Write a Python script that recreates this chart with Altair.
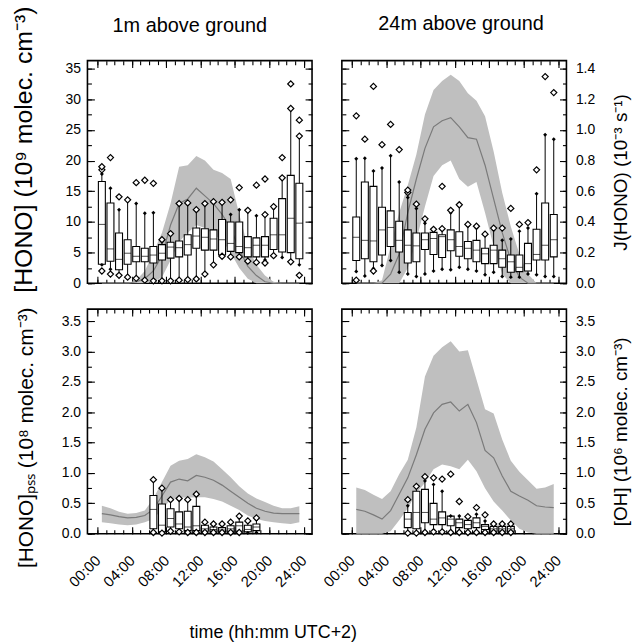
import altair as alt
import pandas as pd

FONT = "Liberation Sans"

# ---------------- data ----------------
hours = [i + 0.5 for i in range(24)]
pss_hours = [i + 0.5 for i in range(6, 19)]

# J(HONO) 1 m (10^-3 s^-1): lower quartile, median, upper quartile
j1_lo = [0, 0, 0, 0, 0, 0.00, 0.01, 0.04, 0.15, 0.27, 0.33, 0.38, 0.36, 0.32, 0.28, 0.20, 0.10, 0.03, 0.00, 0, 0, 0, 0, 0]
j1_med = [0, 0, 0, 0, 0.01, 0.03, 0.08, 0.18, 0.38, 0.52, 0.55, 0.62, 0.57, 0.52, 0.45, 0.36, 0.22, 0.11, 0.05, 0.01, 0, 0, 0, 0]
j1_hi = [0, 0, 0, 0, 0.02, 0.08, 0.20, 0.33, 0.52, 0.76, 0.77, 0.83, 0.80, 0.74, 0.72, 0.68, 0.45, 0.24, 0.12, 0.05, 0.01, 0, 0, 0]

# J(HONO) 24 m
j24_lo = [0, 0, 0, 0, 0, 0, 0.10, 0.28, 0.50, 0.70, 0.77, 0.80, 0.68, 0.63, 0.66, 0.46, 0.24, 0.06, 0, 0, 0, 0, 0, 0]
j24_med = [0, 0, 0, 0, 0.06, 0.19, 0.46, 0.68, 0.88, 1.02, 1.06, 1.08, 1.02, 0.95, 0.94, 0.77, 0.55, 0.33, 0.15, 0.04, 0, 0, 0, 0]
j24_hi = [0, 0, 0, 0.02, 0.24, 0.46, 0.64, 0.84, 1.10, 1.26, 1.32, 1.36, 1.32, 1.24, 1.19, 1.09, 0.86, 0.59, 0.37, 0.19, 0.06, 0, 0, 0]

# [OH] 1 m (10^6 molec cm^-3)
oh1_lo = [0.19, 0.17, 0.15, 0.14, 0.15, 0.19, 0.24, 0.40, 0.56, 0.60, 0.59, 0.60, 0.60, 0.57, 0.53, 0.46, 0.39, 0.30, 0.24, 0.21, 0.19, 0.17, 0.16, 0.19]
oh1_med = [0.33, 0.31, 0.28, 0.26, 0.27, 0.30, 0.40, 0.62, 0.85, 0.90, 0.87, 0.96, 0.93, 0.88, 0.80, 0.70, 0.60, 0.50, 0.42, 0.37, 0.34, 0.33, 0.33, 0.33]
oh1_hi = [0.46, 0.42, 0.36, 0.33, 0.34, 0.38, 0.58, 0.85, 1.12, 1.20, 1.23, 1.31, 1.26, 1.19, 1.06, 0.93, 0.78, 0.66, 0.58, 0.52, 0.46, 0.42, 0.42, 0.45]

# [OH] 24 m
oh24_lo = [0, 0, 0, 0, 0.04, 0.22, 0.42, 0.67, 0.84, 1.06, 1.14, 1.11, 1.06, 1.22, 1.03, 0.75, 0.53, 0.38, 0.22, 0.08, 0.02, 0, 0, 0]
oh24_med = [0.40, 0.37, 0.31, 0.24, 0.38, 0.65, 0.92, 1.30, 1.72, 1.99, 2.13, 2.17, 2.02, 2.13, 1.83, 1.37, 1.25, 0.95, 0.70, 0.62, 0.55, 0.46, 0.44, 0.43]
oh24_hi = [0.76, 0.72, 0.64, 0.57, 0.70, 0.98, 1.22, 1.75, 2.59, 2.93, 3.07, 3.17, 3.00, 3.02, 2.54, 2.05, 1.98, 1.55, 1.20, 1.02, 0.88, 0.74, 0.76, 0.82]

# [HONO] 1 m boxes (10^9 molec cm^-3)
tl_wlo = [3.0, 2.3, 1.4, 1.2, 0.9, 0.6, 0.5, 0.5, 0.5, 0.6, 0.7, 0.8, 1.5, 3.0, 4.4, 4.3, 4.3, 3.6, 3.4, 3.8, 4.4, 4.2, 3.6, 3.0]
tl_q1 = [3.1, 3.6, 2.2, 3.1, 3.5, 3.5, 3.3, 3.8, 4.1, 4.3, 4.6, 5.7, 5.4, 5.4, 4.6, 5.2, 5.0, 4.3, 4.3, 4.3, 5.5, 5.1, 5.0, 4.0]
tl_med = [9.6, 5.6, 3.9, 4.9, 4.4, 4.4, 4.6, 4.9, 5.9, 5.8, 6.3, 7.7, 7.5, 7.2, 7.1, 6.5, 6.0, 5.8, 6.2, 6.2, 7.9, 7.9, 10.6, 9.8]
tl_q3 = [16.6, 13.1, 8.2, 7.1, 6.0, 5.7, 6.0, 6.3, 6.7, 6.9, 7.9, 9.0, 8.9, 8.7, 10.4, 10.0, 10.0, 7.6, 7.4, 7.6, 10.6, 13.8, 17.6, 16.3]
tl_whi = [17.8, 15.5, 12.0, 13.5, 13.0, 11.4, 11.5, 6.8, 7.9, 12.8, 12.9, 11.8, 12.8, 13.1, 13.0, 11.2, 12.0, 11.8, 11.0, 11.0, 12.2, 17.0, 28.4, 23.8]
tl_out = [[18.5, 19.0, 2.0], [20.5, 1.5], [14.1, 1.3], [13.6, 1.0], [16.4, 0.8], [16.8, 0.5], [16.3, 0.4],
          [7.1, 0.4], [8.1, 0.4], [13.0, 0.5], [13.1, 0.6], [12.0, 0.7], [13.0, 1.5], [13.3, 3.0], [13.2, 4.4],
          [13.6, 4.3], [15.6, 4.3], [11.9, 3.6], [16.0, 3.4], [17.0, 11.2, 3.3], [12.5, 4.5], [20.5, 17.2],
          [32.5, 28.5, 3.5], [26.6, 24.0, 1.3]]

# [HONO] 24 m boxes
tr_wlo = [1.9, 1.2, 2.4, 2.9, 3.7, 1.8, 1.5, 1.1, 1.5, 2.0, 2.3, 2.2, 2.6, 2.3, 2.0, 1.4, 1.8, 1.1, 1.0, 1.0, 1.5, 1.4, 1.1, 1.1]
tr_q1 = [3.7, 4.0, 3.5, 4.6, 6.0, 5.1, 3.3, 3.5, 5.5, 4.7, 4.2, 5.3, 4.4, 4.0, 3.5, 3.2, 3.2, 2.6, 1.8, 1.9, 2.0, 3.8, 3.8, 4.3]
tr_med = [7.5, 7.0, 6.9, 8.7, 9.1, 7.0, 6.2, 6.1, 7.1, 7.3, 7.6, 7.1, 6.0, 5.7, 5.4, 4.8, 5.4, 4.0, 3.5, 2.6, 3.2, 4.7, 6.2, 7.1]
tr_q3 = [10.8, 16.5, 15.8, 12.4, 11.8, 10.1, 8.7, 8.2, 8.2, 8.3, 7.9, 8.7, 8.4, 6.8, 7.0, 5.7, 6.2, 5.4, 4.6, 4.6, 6.5, 8.8, 13.1, 11.2]
tr_whi = [20.3, 20.4, 18.3, 18.8, 20.8, 16.5, 14.0, 12.2, 9.8, 8.6, 8.7, 11.5, 12.6, 9.3, 9.0, 7.9, 8.7, 7.0, 7.2, 8.5, 9.0, 14.6, 24.2, 23.5]
tr_out = [[27.3, 0.5], [23.5], [32.1, 2.0], [22.6], [25.9], [21.8], [14.8, 15.2], [12.9], [10.5], [8.8],
          [8.9, 15.8], [11.9], [12.8], [9.6], [9.3], [8.0], [9.0], [9.0], [12.2], [9.6], [9.9], [18.5],
          [33.7], [31.1]]

# [HONO]PSS 1 m boxes (10^8 molec cm^-3)
bl_wlo = [0.0, 0.0, 0.04, 0.03, 0.02, 0.02, 0.02, 0.02, 0.02, 0.02, 0.02, 0.01, 0.02]
bl_q1 = [0.08, 0.03, 0.11, 0.08, 0.05, 0.05, 0.04, 0.04, 0.03, 0.04, 0.04, 0.03, 0.05]
bl_med = [0.40, 0.14, 0.25, 0.16, 0.11, 0.13, 0.08, 0.07, 0.06, 0.08, 0.13, 0.07, 0.11]
bl_q3 = [0.63, 0.49, 0.41, 0.36, 0.37, 0.45, 0.14, 0.11, 0.10, 0.13, 0.19, 0.14, 0.16]
bl_whi = [0.87, 0.74, 0.55, 0.57, 0.55, 0.63, 0.17, 0.15, 0.14, 0.17, 0.26, 0.19, 0.23]
bl_out = [[0.89, 0.02], [0.75, 0.01], [0.56, 0.04], [0.58, 0.03], [0.56, 0.02], [0.65, 0.02], [0.19, 0.02],
          [0.16, 0.02], [0.16, 0.02], [0.19, 0.02], [0.29, 0.02], [0.21], [0.26]]

# [HONO]PSS 24 m boxes
br_wlo = [0.02, 0.01, 0.02, 0.06, 0.05, 0.04, 0.03, 0.03, 0.03, 0.02, 0.02, 0.02, 0.02]
br_q1 = [0.10, 0.08, 0.18, 0.15, 0.15, 0.13, 0.10, 0.08, 0.10, 0.07, 0.04, 0.04, 0.04]
br_med = [0.24, 0.35, 0.35, 0.24, 0.26, 0.24, 0.18, 0.15, 0.18, 0.12, 0.08, 0.08, 0.08]
br_q3 = [0.35, 0.70, 0.73, 0.50, 0.36, 0.29, 0.24, 0.22, 0.26, 0.15, 0.12, 0.12, 0.12]
br_whi = [0.46, 0.76, 0.87, 0.81, 0.70, 0.29, 0.29, 0.26, 0.32, 0.21, 0.15, 0.15, 0.14]
br_out = [[0.56, 0.01], [0.78, 0.01], [0.94, 0.02], [0.92, 0.03], [0.90, 0.03], [0.98, 0.02], [0.53, 0.02],
          [0.28, 0.02], [0.43, 0.02], [0.31, 0.02], [0.16, 0.02], [0.16, 0.02], [0.16, 0.02]]

x_major = [0, 4, 8, 12, 16, 20, 24]
x_minor = list(range(25))
top_major = [0, 5, 10, 15, 20, 25, 30, 35]
top_minor = [0, 2.5, 5, 7.5, 10, 12.5, 15, 17.5, 20, 22.5, 25, 27.5, 30, 32.5, 35]
j_major = [0, 0.2, 0.4, 0.6, 0.8, 1.0, 1.2, 1.4]
j_minor = [0, 0.1, 0.2, 0.3, 0.4, 0.5, 0.6, 0.7, 0.8, 0.9, 1.0, 1.1, 1.2, 1.3, 1.4]
bot_major = [0, 0.5, 1.0, 1.5, 2.0, 2.5, 3.0, 3.5]
bot_minor = [0, 0.25, 0.5, 0.75, 1.0, 1.25, 1.5, 1.75, 2.0, 2.25, 2.5, 2.75, 3.0, 3.25, 3.5]

X_DOMAIN = [-0.6, 24.4]
TOP_DOMAIN = [0, 36.3]
J_DOMAIN = [0, 1.452]
BOT_DOMAIN = [0, 3.7]

BAND = "#bfbfbf"
LINE = "#7a7a7a"
W = 226


def box_table(hrs, wlo, q1, med, q3, whi):
    return pd.DataFrame(dict(hour=hrs, wlo=wlo, q1=q1, med=med, q3=q3, whi=whi))


def outlier_table(hrs, outs):
    rows = [(h, v) for h, vals in zip(hrs, outs) for v in vals]
    return pd.DataFrame(rows, columns=["hour", "val"])


def band_table(lo, med, hi):
    return pd.DataFrame(dict(hour=hours, lo=lo, med=med, hi=hi))


def axis(orient, values, length, labels=False, title=None, extra=None):
    kw = dict(orient=orient, values=values, offset=-length, tickSize=length, tickColor="black",
              tickWidth=1.1, domain=False, grid=False, labels=labels, title=title,
              labelFlush=False, labelOverlap=False, labelFont=FONT, labelColor="black",
              titleFont=FONT, titleColor="black", titleFontWeight="normal")
    if extra:
        kw.update(extra)
    return alt.Axis(**kw)


def panel(band, boxes, outl, ldom, lmaj, lmin, lfmt, rdom, rmaj, rmin, rfmt, height,
          show_left, show_right, show_bottom, ltitle, rtitle, title=None, title_dx=0,
          title_offset=24, ltitle_y=None, ltitle_size=23, rtitle_y=None):
    xs = alt.Scale(domain=X_DOMAIN, nice=False, zero=False)
    ls = alt.Scale(domain=ldom, nice=False, zero=False)
    rs = alt.Scale(domain=rdom, nice=False, zero=False)

    bottom_extra = dict(labelExpr="(datum.value < 10 ? '0' : '') + datum.value + ':00'",
                        labelAngle=315, labelAlign="right", labelBaseline="middle",
                        labelPadding=24, labelFontSize=15)
    left_extra = dict(format=lfmt, labelFontSize=14, labelPadding=7, minExtent=36, maxExtent=36,
                      titlePadding=22, titleFontSize=ltitle_size)
    if ltitle_y is not None:
        left_extra["titleY"] = ltitle_y
    right_extra = dict(format=rfmt, labelFontSize=14, labelPadding=9, minExtent=36, maxExtent=36,
                       titlePadding=16, titleFontSize=19, titleAngle=270, titleBaseline="top")
    if rtitle_y is not None:
        right_extra["titleY"] = rtitle_y

    band_l = alt.Chart(band).mark_area(color=BAND, opacity=1).encode(
        x=alt.X("hour:Q", scale=xs, axis=axis("bottom", x_major, 7, show_bottom,
                                               extra=bottom_extra if show_bottom else None)),
        y=alt.Y("lo:Q", scale=rs, axis=axis("right", rmaj, 7, show_right,
                                            rtitle if show_right else None,
                                            right_extra if show_right else None)),
        y2="hi:Q",
    )
    line_l = alt.Chart(band).mark_line(color=LINE, strokeWidth=1.2).encode(
        x=alt.X("hour:Q", scale=xs, axis=axis("bottom", x_minor, 4)),
        y=alt.Y("med:Q", scale=rs, axis=axis("right", rmin, 4)),
    )
    whisk = alt.Chart(boxes).mark_rule(color="black", strokeWidth=1).encode(
        x=alt.X("hour:Q", scale=xs, axis=axis("top", x_major, 7)),
        y=alt.Y("wlo:Q", scale=ls, axis=axis("left", lmaj, 7, show_left,
                                             ltitle if show_left else None,
                                             left_extra if show_left else None)),
        y2="whi:Q",
    )
    box = alt.Chart(boxes).mark_bar(size=7, fill="white", stroke="black", strokeWidth=1.1).encode(
        x=alt.X("hour:Q", scale=xs, axis=axis("top", x_minor, 4)),
        y=alt.Y("q1:Q", scale=ls, axis=axis("left", lmin, 4)),
        y2="q3:Q",
    )
    med = alt.Chart(boxes).mark_tick(orient="horizontal", size=7, thickness=1, color="black").encode(
        x=alt.X("hour:Q", scale=xs, axis=None),
        y=alt.Y("med:Q", scale=ls, axis=None),
    )
    caps = alt.Chart(boxes).transform_fold(["wlo", "whi"], as_=["end", "val"]).mark_point(
        shape="diamond", filled=True, color="black", size=16, opacity=1).encode(
        x=alt.X("hour:Q", scale=xs, axis=None),
        y=alt.Y("val:Q", scale=ls, axis=None),
    )
    outs = alt.Chart(outl).mark_point(shape="diamond", filled=True, fill="white", stroke="black",
                                      strokeWidth=1.2, size=38, opacity=1).encode(
        x=alt.X("hour:Q", scale=xs, axis=None),
        y=alt.Y("val:Q", scale=ls, axis=None),
    )
    props = dict(width=W, height=height)
    if title:
        props["title"] = alt.TitleParams(title, fontSize=20, font=FONT, fontWeight="normal",
                                         color="black", anchor="middle", offset=title_offset,
                                         dx=title_dx)
    return (alt.layer(band_l, line_l, whisk, box, med, caps, outs)
            .resolve_scale(y="independent")
            .resolve_axis(x="independent", y="independent")
            .properties(**props))


tl = panel(band_table(j1_lo, j1_med, j1_hi), box_table(hours, tl_wlo, tl_q1, tl_med, tl_q3, tl_whi),
           outlier_table(hours, tl_out), TOP_DOMAIN, top_major, top_minor, "d",
           J_DOMAIN, j_major, j_minor, ".1f", 224, True, False, False,
           "[HONO] (10⁹ molec. cm⁻³)", None, "1m above ground", -10,
           title_offset=-30, ltitle_y=89, ltitle_size=25)
tr = panel(band_table(j24_lo, j24_med, j24_hi), box_table(hours, tr_wlo, tr_q1, tr_med, tr_q3, tr_whi),
           outlier_table(hours, tr_out), TOP_DOMAIN, top_major, top_minor, "d",
           J_DOMAIN, j_major, j_minor, ".1f", 224, False, True, False,
           None, "J(HONO) (10⁻³ s⁻¹)", "24m above ground", 7, title_offset=26)
bl = panel(band_table(oh1_lo, oh1_med, oh1_hi), box_table(pss_hours, bl_wlo, bl_q1, bl_med, bl_q3, bl_whi),
           outlier_table(pss_hours, bl_out), BOT_DOMAIN, bot_major, bot_minor, ".1f",
           BOT_DOMAIN, bot_major, bot_minor, ".1f", 226, True, False, True,
           "[HONO]ₚₛₛ (10⁸ molec. cm⁻³)", None, ltitle_y=129, ltitle_size=21)
br = panel(band_table(oh24_lo, oh24_med, oh24_hi), box_table(pss_hours, br_wlo, br_q1, br_med, br_q3, br_whi),
           outlier_table(pss_hours, br_out), BOT_DOMAIN, bot_major, bot_minor, ".1f",
           BOT_DOMAIN, bot_major, bot_minor, ".1f", 226, False, True, True,
           None, "[OH] (10⁶ molec. cm⁻³)", rtitle_y=123)

chart = alt.concat(
    tl, tr, bl, br, columns=2, spacing={"row": 26, "column": 30}, bounds="flush",
    title=alt.TitleParams("time (hh:mm UTC+2)", orient="bottom", anchor="middle", fontSize=18,
                          font=FONT, fontWeight="normal", color="black", offset=34, dx=-48),
).properties(
    padding={"left": 11, "top": 3, "right": 5, "bottom": 5}
).configure_view(stroke="black", strokeWidth=1.6)

chart.save("out.html", embed_options={"renderer": "svg", "actions": False})
